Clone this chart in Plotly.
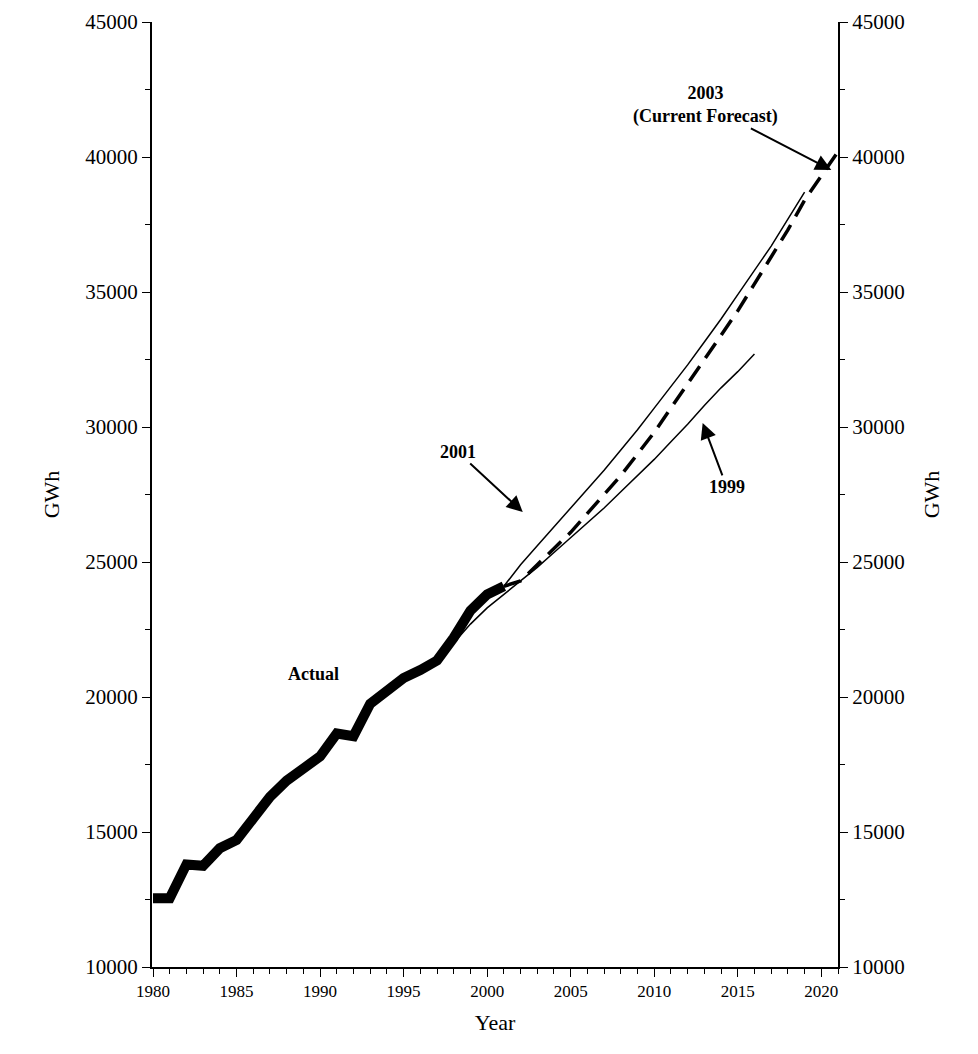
import plotly.graph_objects as go

actual_years = list(range(1980, 2002))
actual_gwh = [12550, 12550, 13800, 13750, 14400, 14700, 15500, 16300, 16900, 17300, 17800,
              18650, 18550, 19750, 20200, 20700, 21000, 21350, 22200, 23200, 23800, 24100]

f2001_years = list(range(2001, 2020))
f2001_gwh = [24100, 24900, 25600, 26300, 27000, 27700, 28400, 29150, 29900, 30700,
             31500, 32300, 33150, 34000, 34900, 35800, 36700, 37700, 38700]

f2003_years = list(range(2001, 2022))
f2003_gwh = [24100, 24300, 24900, 25500, 26100, 26800, 27500, 28200, 29000, 29800, 30700,
             31600, 32500, 33400, 34300, 35300, 36300, 37300, 38400, 39300, 40200]

f1999_years = list(range(1998, 2017))
f1999_gwh = [22000, 22700, 23300, 23800, 24300, 24800, 25350, 25900, 26450, 27000,
             27600, 28200, 28800, 29450, 30100, 30800, 31450, 32050, 32700]

font = "Liberation Serif"

fig = go.Figure()
fig.add_trace(go.Scatter(x=f1999_years, y=f1999_gwh, mode="lines",
                         line=dict(color="black", width=1.5)))
fig.add_trace(go.Scatter(x=f2001_years, y=f2001_gwh, mode="lines",
                         line=dict(color="black", width=1.5)))
fig.add_trace(go.Scatter(x=f2003_years, y=f2003_gwh, mode="lines",
                         line=dict(color="black", width=3.5, dash="18px,10px")))
fig.add_trace(go.Scatter(x=actual_years, y=actual_gwh, mode="lines",
                         line=dict(color="black", width=10)))
# invisible trace to show the right axis
fig.add_trace(go.Scatter(x=[1980], y=[10000], yaxis="y2", mode="markers",
                         marker=dict(opacity=0), hoverinfo="skip"))

axis_common = dict(showgrid=False, zeroline=False, showline=True, linecolor="black",
                   linewidth=2, ticks="outside", ticklen=8, tickcolor="black",
                   automargin=False, tickformat="d")
yfont = dict(family=font, size=21, color="black")

fig.update_layout(
    width=978, height=1054, showlegend=False,
    plot_bgcolor="white", paper_bgcolor="white",
    margin=dict(l=144, r=148, t=14, b=95),
    font=dict(family=font, color="black"),
    xaxis=dict(range=[1979.94, 2021], dtick=5, tick0=1980,
               minor=dict(dtick=1, ticks="outside", ticklen=5, tickcolor="black"),
               title=dict(text="Year", font=dict(family=font, size=22), standoff=14),
               tickfont=dict(family=font, size=17, color="black"),
               **axis_common),
    yaxis=dict(range=[10000, 45000], dtick=5000, tickfont=yfont,
               minor=dict(dtick=2500, ticks="outside", ticklen=5, tickcolor="black"),
               title=dict(text="GWh", font=dict(family=font, size=22), standoff=20),
               **axis_common),
    yaxis2=dict(range=[10000, 45000], dtick=5000, overlaying="y", side="right",
                tickfont=yfont,
                minor=dict(dtick=2500, ticks="outside", ticklen=5, tickcolor="black"),
                title=dict(text="GWh", font=dict(family=font, size=22), standoff=20),
                **axis_common),
)

ann_font = dict(family=font, size=18, color="black")
arrow = dict(arrowhead=2, arrowsize=1.6, arrowwidth=2, arrowcolor="black")
fig.add_annotation(x=2020.6, y=39520, text="<b>2003<br>(Current Forecast)</b>",
                   ax=-126, ay=-65, font=ann_font, **arrow)
fig.add_annotation(x=2002.13, y=26850, text="<b>2001</b>", ax=-65, ay=-60,
                   font=ann_font, **arrow)
fig.add_annotation(x=2012.9, y=30150, text="<b>1999</b>", ax=24, ay=64,
                   font=ann_font, **arrow)
fig.add_annotation(x=1989.6, y=20850, text="<b>Actual</b>", showarrow=False,
                   font=ann_font)

fig.write_html("out.html")
